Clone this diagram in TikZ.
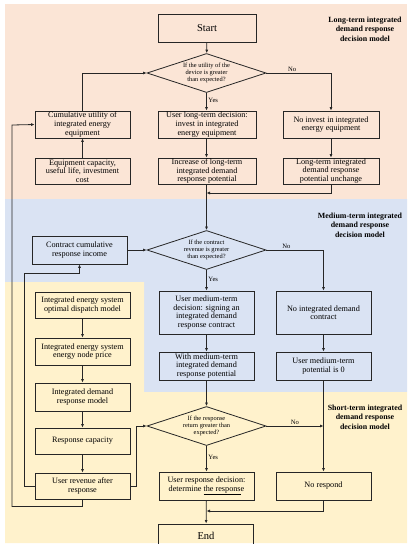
\documentclass[tikz,border=0pt]{standalone}
\usepackage{fontspec}
\setmainfont{Liberation Serif}
\usetikzlibrary{shapes.geometric,arrows.meta}
\definecolor{peach}{HTML}{FBE5D6}
\definecolor{bluebg}{HTML}{DAE3F3}
\definecolor{yellowbg}{HTML}{FFF2CC}
\definecolor{ink}{HTML}{262626}
\tikzset{
  box/.style={draw=ink, line width=0.8pt, align=center, inner sep=0pt,
    font=\fontsize{8.2}{8.6}\selectfont, minimum width=95pt},
  dec/.style={draw=ink, line width=0.8pt, shape=diamond, aspect=3, align=center,
    inner sep=0pt, font=\fontsize{6.4}{7.2}\selectfont, minimum width=119pt, minimum height=39pt},
  lbl/.style={align=center, font=\bfseries\fontsize{7.9}{9.4}\selectfont},
  yn/.style={font=\fontsize{6.6}{7}\selectfont, inner sep=1.5pt},
  con/.style={draw=ink, line width=0.8pt, -{Latex[length=3.5pt,width=3pt]}},
  ln/.style={draw=ink, line width=0.8pt}
}
\begin{document}
\begin{tikzpicture}[x=1pt,y=-1pt]
\useasboundingbox (0,0) rectangle (413,550);
% backgrounds
\fill[peach] (5,4) rectangle (407,199);
\fill[bluebg] (5,199) -- (407,199) -- (407,392) -- (144,392) -- (144,282) -- (5,282) -- cycle;
\fill[yellowbg] (5,282) -- (144,282) -- (144,392) -- (407,392) -- (407,543) -- (5,543) -- cycle;

% section labels
\node[lbl] (lt) at (365,29) {Long-term integrated\\demand response\\decision model};
\node[lbl] (mt) at (360,225) {Medium-term integrated\\demand response\\decision model};
\node[lbl] (st) at (365,417) {Short-term integrated\\demand response\\decision model};

% long-term
\node[box, minimum width=98pt, minimum height=28pt, font=\fontsize{10.5}{12}\selectfont] (start) at (207,28) {Start};
\node[dec] (d1) at (206.5,73) {If the utility of the\\device is greater\\than expected?};
\node[box, minimum height=27pt] (cum) at (82.5,124.5) {Cumulative utility of\\integrated energy\\equipment};
\node[box, minimum width=98pt, minimum height=27pt] (ltd) at (207,124.5) {User long-term decision:\\invest in integrated\\energy equipment};
\node[box, minimum width=96pt, minimum height=27pt] (noinv) at (331,124.5) {No invest in integrated\\energy equipment};
\node[box, minimum height=26pt] (equip) at (82.5,171) {Equipment capacity,\\useful life, investment\\cost};
\node[box, minimum width=98pt, minimum height=26pt] (incr) at (207,171) {Increase of long-term\\integrated demand\\response potential};
\node[box, minimum width=96pt, minimum height=26pt] (unch) at (331,171) {Long-term integrated\\demand response\\potential unchange};

% medium-term
\node[dec] (d2) at (206.5,250) {If the contract\\revenue is greater\\than expected?};
\node[box, minimum height=28pt] (contract) at (79.5,250) {Contract cumulative\\response income};
\node[box, minimum height=43pt] (umd) at (206.5,312.5) {User medium-term\\decision: signing an\\integrated demand\\response contract};
\node[box, minimum height=43pt] (noc) at (323.5,312.5) {No integrated demand\\contract};
\node[box, minimum height=28pt] (withm) at (206.5,366) {With medium-term\\integrated demand\\response potential};
\node[box, minimum height=28pt] (pot0) at (323.5,366) {User medium-term\\potential is 0};

% left yellow column
\node[box, minimum height=26pt] (ies) at (82.5,305) {Integrated energy system\\optimal dispatch model};
\node[box, minimum height=27pt] (price) at (82.5,351.5) {Integrated energy system\\energy node price};
\node[box, minimum height=28pt] (idr) at (82.5,397) {Integrated demand\\response model};
\node[box, minimum height=26pt] (cap) at (82.5,441) {Response capacity};
\node[box, minimum height=26pt] (rev) at (82.5,486) {User revenue after\\response};

% short-term
\node[dec] (d3) at (206.5,426) {If the response\\return greater than\\expected?};
\node[box, minimum height=28pt] (urd) at (206.5,486) {User response decision:\\determine \underline{the respons}e};
\node[box, minimum height=28pt] (nores) at (323.5,486) {No respond};
\node[box, minimum height=24pt, anchor=north] (end) at (206,523.5) {};
\node[font=\fontsize{10.5}{12}\selectfont] (endt) at (206,536) {End};
\fill[white] (0,543.5) rectangle (413,550);

% coordinates
\coordinate (m1) at (206.5,193);
\coordinate (m3) at (206.5,511);
\coordinate (l1) at (12,125);
\coordinate (l2) at (24,273);

% connectors long-term
\draw[con] (start) -- (d1);
\draw[con] (d1.south) -- node[yn, right, pos=0.45] {Yes} (d1.south |- ltd.north);
\draw[con] (d1.east) -- node[yn, above, pos=0.4] {No} (d1.east -| noinv.north) -- (noinv.north);
\draw[con] (cum.north) |- (d1.west);
\draw[con] (equip) -- (cum);
\draw[con] (ltd.south -| d1.south) -- (incr.north -| d1.south);
\draw[con] (noinv) -- (unch);
\draw[con] (unch.south) |- (m1);
\draw[con] (incr.south -| d1.south) -- (d2.north);

% medium-term
\draw[con] (contract) -- (d2);
\draw[con] (d2.south) -- node[yn, right, pos=0.45] {Yes} (umd.north);
\draw[con] (d2.east) -- node[yn, above, pos=0.35] {No} (d2.east -| noc.north) -- (noc.north);
\draw[con] (umd) -- (withm);
\draw[con] (noc) -- (pot0);
\draw[con] (withm) -- (d3);
\draw[con] (pot0) -- (nores);

% left column
\draw[con] (ies) -- (price);
\draw[con] (price) -- (idr);
\draw[con] (idr) -- (cap);
\draw[con] (cap) -- (rev);
\draw[con] (rev.east) -- ++(6,0) |- (d3.west);
\draw[con] (rev.west) -- (rev.west -| l2) -- (l2) -| (contract.south);
\draw[con] (rev.south) -- ++(0,7) -| (l1) -- (cum.west);

% short-term
\draw[con] (d3.east) -- node[yn, above, pos=0.5] {No} (d3.east -| nores.north);
\draw[con] (d3.south) -- node[yn, right, pos=0.45] {Yes} (urd.north);
\draw[con] (nores.south) |- (m3);
\draw[con] (urd) -- (end);
\end{tikzpicture}
\end{document}
